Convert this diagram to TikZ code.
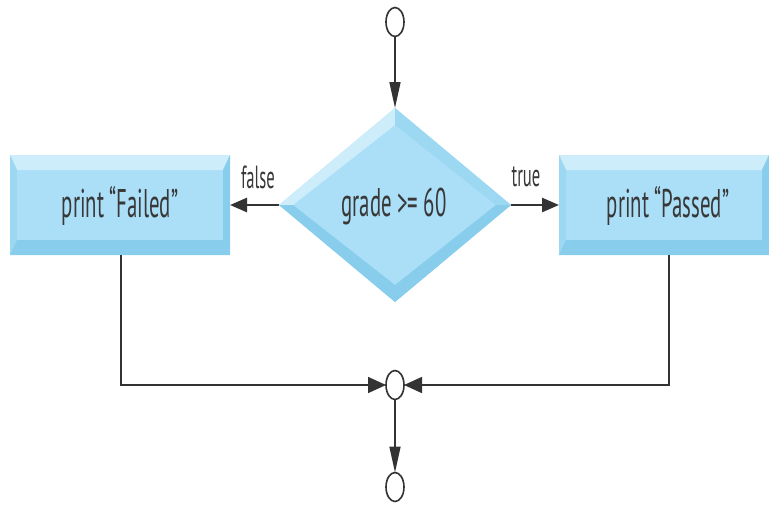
\documentclass[tikz,border=0pt]{standalone}
\usepackage{fontspec}
\newfontfamily\lbl[FakeStretch=0.52]{PT Sans}
\usetikzlibrary{shapes.geometric,arrows.meta}
\definecolor{bmain}{HTML}{ABDFF7}
\definecolor{blight}{HTML}{CDEDFB}
\definecolor{bmid}{HTML}{9CD8F2}
\definecolor{bdark}{HTML}{88CDEC}
\definecolor{txt}{HTML}{383838}
\definecolor{lin}{HTML}{333333}
\begin{document}
\begin{tikzpicture}[x=1pt,y=-1pt,
  box/.style={rectangle, fill=bmain, inner sep=0pt, outer sep=0pt, minimum height=100pt},
  dia/.style={diamond, fill=bmain, inner sep=0pt, outer sep=0pt, minimum width=232pt, minimum height=194pt},
  maintext/.style={text=txt, inner sep=0pt, font=\lbl\fontsize{40}{44}\selectfont},
  term/.style={ellipse, draw=lin, line width=1.6pt, fill=white, inner sep=0pt, outer sep=0pt, minimum width=18pt, minimum height=29pt},
  lab/.style={text=txt, inner sep=0pt, font=\lbl\fontsize{32}{34}\selectfont},
  lnthick/.style={draw=lin, line width=2.6pt},
  lnthin/.style={draw=lin, line width=1.6pt},
  harr/.style={-{Triangle[length=17pt,width=14pt]}},
  harrb/.style={-{Triangle[length=18pt,width=16pt]}},
  varr/.style={-{Triangle[length=26pt,width=11pt]}}
]
\useasboundingbox (0,0) rectangle (769,504);

% nodes
\node[term] (T) at (395,22) {};
\node[dia] (D) at (395,205) {};
\node[box, minimum width=220pt] (F) at (120,205) {};
\node[box, minimum width=210pt] (P) at (664,205) {};
\node[term] (M) at (395,385) {};
\node[term] (E) at (395,487) {};

% bevels of left box
\fill[blight] (F.north west) -- (F.north east) -- ([shift={(-7,15)}]F.north east) -- ([shift={(7,15)}]F.north west) -- cycle;
\fill[bmid] (F.north west) -- ([shift={(7,15)}]F.north west) -- ([shift={(7,-15)}]F.south west) -- (F.south west) -- cycle;
\fill[bdark] (F.north east) -- ([shift={(-7,15)}]F.north east) -- ([shift={(-7,-15)}]F.south east) -- (F.south east) -- cycle;
\fill[bdark] (F.south west) -- ([shift={(7,-15)}]F.south west) -- ([shift={(-7,-15)}]F.south east) -- (F.south east) -- cycle;

% bevels of right box
\fill[blight] (P.north west) -- (P.north east) -- ([shift={(-7,15)}]P.north east) -- ([shift={(7,15)}]P.north west) -- cycle;
\fill[bmid] (P.north west) -- ([shift={(7,15)}]P.north west) -- ([shift={(7,-15)}]P.south west) -- (P.south west) -- cycle;
\fill[bdark] (P.north east) -- ([shift={(-7,15)}]P.north east) -- ([shift={(-7,-15)}]P.south east) -- (P.south east) -- cycle;
\fill[bdark] (P.south west) -- ([shift={(7,-15)}]P.south west) -- ([shift={(-7,-15)}]P.south east) -- (P.south east) -- cycle;

% bevels of diamond
\coordinate (Dn) at ([shift={(0,17)}]D.north);
\coordinate (De) at ([shift={(-15,0)}]D.east);
\coordinate (Ds) at ([shift={(0,-17)}]D.south);
\coordinate (Dw) at ([shift={(14,0)}]D.west);
\fill[blight] (D.west) -- (D.north) -- (Dn) -- (Dw) -- cycle;
\fill[bmid] (D.north) -- (D.east) -- (De) -- (Dn) -- cycle;
\fill[bdark] (D.east) -- (D.south) -- (Ds) -- (De) -- cycle;
\fill[bdark] (D.south) -- (D.west) -- (Dw) -- (Ds) -- cycle;

% texts
\node[maintext] (Ft) at (120,206) {print “Failed”};
\node[maintext] (Pt) at (668,206) {print “Passed”};
\node[maintext] (Dt) at (394,206) {grade >= 60};

% connectors
\draw[lnthin, varr] (T.south) -- (D.north);
\draw[lnthick, harr] (D.west) -- (F.east);
\draw[lnthick, harr] (D.east) -- (P.west);
\node[lab] (fl) at (258,177) {false};
\node[lab] (tr) at (526,177) {true};
\draw[lnthin, harrb] ([xshift=1pt]F.south) |- (M.west);
\draw[lnthin, harrb] ([xshift=5pt]P.south) |- (M.east);
\draw[lnthin, varr] (M.south) -- (E.north);
\end{tikzpicture}
\end{document}
